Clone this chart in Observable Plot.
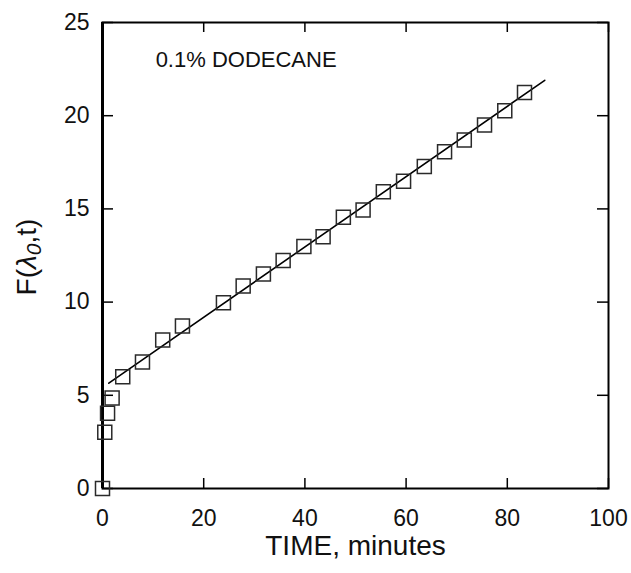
<!DOCTYPE html>
<html><head><meta charset="utf-8">
<script src="https://cdn.jsdelivr.net/npm/d3@7"></script>
<script src="https://cdn.jsdelivr.net/npm/@observablehq/plot@0.6"></script>
<style>body{margin:0;background:#fff} svg{display:block}</style>
</head><body><div id="chart"></div>
<script>
const timeMin = [0,0.45,1.0,1.9,4.0,7.9,11.9,15.8,23.9,27.8,31.8,35.7,39.8,43.6,47.6,51.5,55.5,59.5,63.6,67.6,71.5,75.5,79.5,83.4];
const fValue  = [0,3.02,4.04,4.86,6.0,6.79,7.97,8.72,9.96,10.87,11.51,12.23,12.98,13.51,14.55,14.94,15.92,16.48,17.28,18.07,18.7,19.5,20.27,21.25];
const fitTime = [1.25, 87.4];
const fitValue = [5.65, 21.9];
const xTicks = [0,20,40,60,80,100];
const yTicks = [0,5,10,15,20,25];
const noteText = ["0.1% DODECANE"];
const noteX = [10.5];
const noteY = [23.0];
const xLabel = ["TIME, minutes"];

const points = timeMin.map((t,i)=>({t, f:fValue[i]}));
const fit = fitTime.map((t,i)=>({t, f:fitValue[i]}));
const notes = noteText.map((s,i)=>({s, x:noteX[i], y:noteY[i]}));

const W = 631, H = 573, mL = 102, mR = 23, mT = 22, mB = 85;
const iW = W-mL-mR, iH = H-mT-mB;
const font = "'Liberation Sans', Arial, Helvetica, sans-serif";

const plot = Plot.plot({
  width: W, height: H,
  marginLeft: mL, marginRight: mR, marginTop: mT, marginBottom: mB,
  style: {fontFamily: font, background: "#fff", color: "#000"},
  x: {domain: [0,100]},
  y: {domain: [0,25]},
  marks: [
    Plot.axisX(xTicks, {tickSize: 0, tickPadding: 21, fontSize: 23, label: null, fill: "#111"}),
    Plot.axisY(yTicks, {tickSize: 0, tickPadding: 13, fontSize: 23, label: null, fill: "#111"}),
    // inward ticks bottom/top
    Plot.tickX(xTicks, {x: d=>d, stroke: "#000", strokeWidth: 1.5, insetTop: iH-10}),
    Plot.tickX(xTicks, {x: d=>d, stroke: "#000", strokeWidth: 1.5, insetBottom: iH-10}),
    // inward ticks left/right
    Plot.tickY(yTicks, {y: d=>d, stroke: "#000", strokeWidth: 1.5, insetRight: iW-11}),
    Plot.tickY(yTicks, {y: d=>d, stroke: "#000", strokeWidth: 1.5, insetLeft: iW-11}),
    Plot.frame({stroke: "#000", strokeWidth: 2}),
    Plot.ruleX([0], {stroke: "#000", strokeWidth: 3}),
    Plot.line(fit, {x: "t", y: "f", stroke: "#000", strokeWidth: 1.6}),
    Plot.dot(points, {x: "t", y: "f", symbol: "square", r: 7.9, stroke: "#2a2a2a", strokeWidth: 1.5, fill: "none"}),
    Plot.text(notes, {x: "x", y: "y", text: "s", textAnchor: "start", fontSize: 22, fill: "#111"}),
    Plot.text(xLabel, {text: d=>d, frameAnchor: "bottom", lineAnchor: "middle", dy: 58, fontSize: 28, fill: "#111"})
  ]
});
document.getElementById("chart").appendChild(plot);

// y-axis label with italic lambda and subscript
const svg = d3.select(plot);
const cy = mT + iH/2 + 2;
const lab = svg.append("text")
  .attr("transform", `translate(36,${cy}) rotate(-90)`)
  .attr("text-anchor", "middle")
  .attr("font-family", font)
  .attr("font-size", 28)
  .attr("fill", "#111");
lab.append("tspan").text("F(");
lab.append("tspan").attr("font-style", "italic").text("λ");
lab.append("tspan").attr("font-style", "italic").attr("font-size", 21).attr("dy", 5).text("0");
lab.append("tspan").attr("dy", -5).text(",t)");
</script>
</body></html>
